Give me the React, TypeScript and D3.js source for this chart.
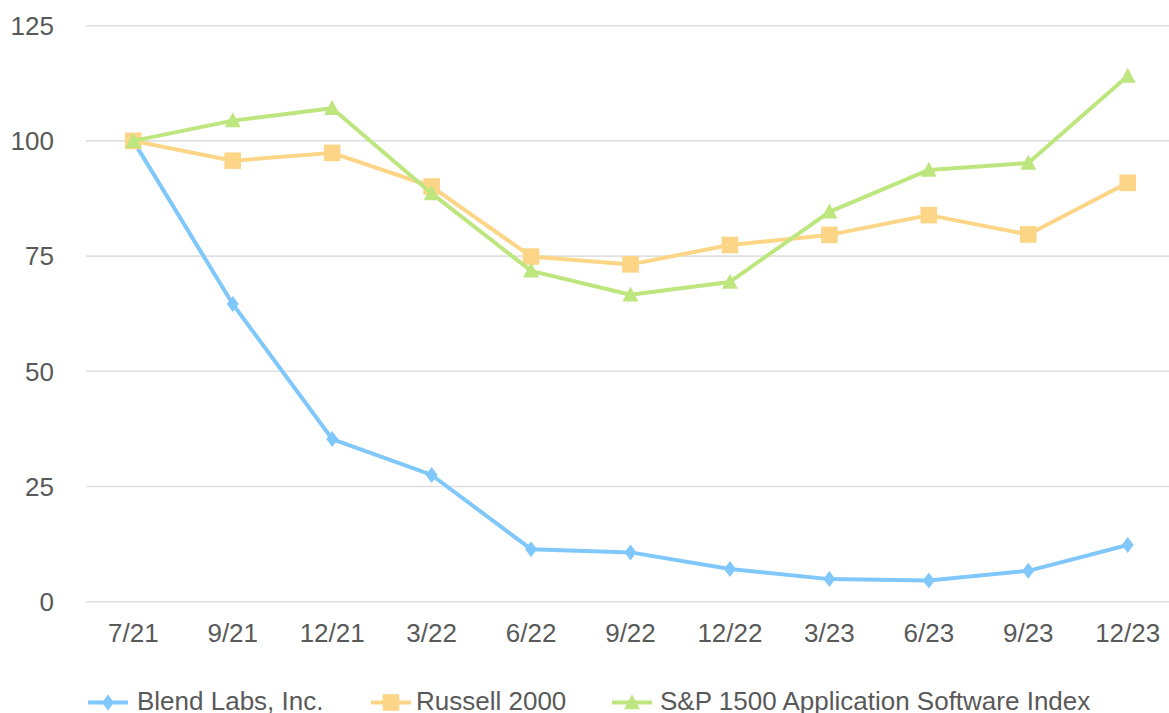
import React from "react";
import * as d3 from "d3";

const categories = ["7/21", "9/21", "12/21", "3/22", "6/22", "9/22", "12/22", "3/23", "6/23", "9/23", "12/23"];
const blendValues = [100, 64.6, 35.3, 27.5, 11.4, 10.7, 7.1, 4.9, 4.6, 6.7, 12.3];
const russellValues = [100, 95.7, 97.4, 90.1, 74.9, 73.2, 77.4, 79.6, 83.9, 79.7, 90.9];
const spValues = [100, 104.4, 107.1, 88.6, 71.8, 66.6, 69.4, 84.6, 93.7, 95.2, 114.1];
const yTicks = [0, 25, 50, 75, 100, 125];
const seriesNames = ["Blend Labs, Inc.", "Russell 2000", "S&P 1500 Application Software Index"];

const W = 1169;
const H = 713;
const FONT = "'Liberation Sans', Arial, sans-serif";
const TEXT = "#595959";

type Shape = "diamond" | "square" | "triangle";

const series = [
  { name: seriesNames[0], values: blendValues, color: "#80C8FB", shape: "diamond" as Shape },
  { name: seriesNames[1], values: russellValues, color: "#FDD587", shape: "square" as Shape },
  { name: seriesNames[2], values: spValues, color: "#BEE67F", shape: "triangle" as Shape },
];

function markerPath(shape: Shape, cx: number, cy: number): string {
  if (shape === "square") {
    const s = 8.3;
    return `M${cx - s},${cy - s}H${cx + s}V${cy + s}H${cx - s}Z`;
  }
  if (shape === "diamond") {
    const w = 6, h = 8;
    return `M${cx},${cy - h}L${cx + w},${cy}L${cx},${cy + h}L${cx - w},${cy}Z`;
  }
  const w = 8, h = 15;
  return `M${cx},${cy - h * 0.55}L${cx + w},${cy + h * 0.45}L${cx - w},${cy + h * 0.45}Z`;
}

export default function App() {
  const x = d3.scalePoint<string>().domain(categories).range([133.3, 1127.7]);
  const y = d3.scaleLinear().domain([0, 125]).range([601.7, 25.7]);
  const line = d3
    .line<number>()
    .x((_, i) => x(categories[i]) as number)
    .y((d) => y(d));

  const legendItems = [
    { lx: 88, tx: 137 },
    { lx: 371, tx: 416 },
    { lx: 612, tx: 660 },
  ];
  const legendY = 702.5;

  return (
    <svg
      width={W}
      height={H}
      style={{ position: "absolute", left: 0, top: 0, background: "#fff" }}
      fontFamily={FONT}
    >
      <rect x={0} y={0} width={W} height={H} fill="#fff" />
      {yTicks.map((t) => (
        <g key={t}>
          <line x1={86} x2={W} y1={y(t)} y2={y(t)} stroke="#E0E0E0" strokeWidth={1.6} />
          <text x={54} y={y(t)} dy="0.36em" textAnchor="end" fontSize={26} fill={TEXT}>
            {t}
          </text>
        </g>
      ))}
      {categories.map((c) => (
        <text key={c} x={x(c)} y={641.5} textAnchor="middle" fontSize={26} fill={TEXT}>
          {c}
        </text>
      ))}
      {series.map((s) => (
        <g key={s.name}>
          <path d={line(s.values) || ""} fill="none" stroke={s.color} strokeWidth={4} strokeLinejoin="round" />
          {s.values.map((v, i) => (
            <path key={i} d={markerPath(s.shape, x(categories[i]) as number, y(v))} fill={s.color} />
          ))}
        </g>
      ))}
      {series.map((s, i) => (
        <g key={"lg" + s.name}>
          <line
            x1={legendItems[i].lx}
            x2={legendItems[i].lx + 40}
            y1={legendY}
            y2={legendY}
            stroke={s.color}
            strokeWidth={4}
          />
          <path d={markerPath(s.shape, legendItems[i].lx + 20, legendY)} fill={s.color} />
          <text x={legendItems[i].tx} y={710} fontSize={26} fill={TEXT}>
            {s.name}
          </text>
        </g>
      ))}
    </svg>
  );
}
